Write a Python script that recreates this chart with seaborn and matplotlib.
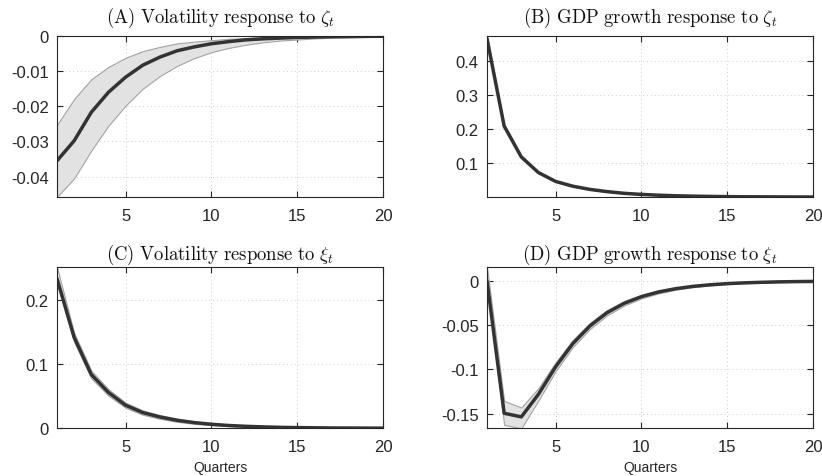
import numpy as np
import pandas as pd
import seaborn as sns
import matplotlib
matplotlib.use("Agg")
import matplotlib.pyplot as plt

# Horizon (quarters)
quarters = list(range(1, 21))

# (A) Volatility response to zeta
vol_zeta_mean = [-0.0355, -0.0298, -0.0217, -0.0160, -0.0117, -0.0083, -0.0060, -0.0042, -0.0031, -0.0022,
                 -0.0016, -0.0011, -0.0008, -0.0006, -0.0004, -0.0003, -0.0002, -0.00015, -0.0001, -0.00007]
vol_zeta_lo = [-0.0458, -0.0405, -0.0326, -0.0255, -0.0198, -0.0150, -0.0114, -0.0085, -0.0063, -0.0046,
               -0.0034, -0.0025, -0.0018, -0.0013, -0.0010, -0.0007, -0.0005, -0.0004, -0.0003, -0.0002]
vol_zeta_hi = [-0.0253, -0.0179, -0.0123, -0.0088, -0.0062, -0.0043, -0.0031, -0.0021, -0.0016, -0.0012,
               -0.0008, -0.0006, -0.0004, -0.0003, -0.0002, -0.00015, -0.0001, -0.00007, -0.00005, -0.00003]

# (B) GDP growth response to zeta
gdp_zeta_mean = [0.466, 0.209, 0.118, 0.072, 0.046, 0.032, 0.0225, 0.016, 0.011, 0.0078,
                 0.0055, 0.0038, 0.0027, 0.0019, 0.0013, 0.0009, 0.0007, 0.0005, 0.0003, 0.0002]
gdp_zeta_lo = [0.458, 0.205, 0.115, 0.070, 0.045, 0.031, 0.0218, 0.0155, 0.0106, 0.0075,
               0.0053, 0.0036, 0.0026, 0.0018, 0.0012, 0.0008, 0.0006, 0.0004, 0.0003, 0.0002]
gdp_zeta_hi = [0.474, 0.213, 0.121, 0.074, 0.047, 0.033, 0.0232, 0.0165, 0.0114, 0.0081,
               0.0057, 0.0040, 0.0028, 0.0020, 0.0014, 0.0010, 0.0008, 0.0006, 0.0004, 0.0003]

# (C) Volatility response to xi
vol_xi_mean = [0.234, 0.142, 0.084, 0.056, 0.036, 0.0245, 0.0177, 0.0125, 0.0089, 0.0063,
               0.0044, 0.0031, 0.0022, 0.0015, 0.0011, 0.0008, 0.0005, 0.0004, 0.0003, 0.0002]
vol_xi_lo = [0.226, 0.135, 0.078, 0.051, 0.032, 0.0212, 0.0148, 0.0101, 0.0070, 0.0049,
             0.0034, 0.0024, 0.0017, 0.0011, 0.0008, 0.0006, 0.0003, 0.0002, 0.0002, 0.0001]
vol_xi_hi = [0.252, 0.149, 0.090, 0.061, 0.040, 0.0280, 0.0206, 0.0150, 0.0109, 0.0078,
             0.0055, 0.0039, 0.0028, 0.0019, 0.0014, 0.0010, 0.0007, 0.0005, 0.0004, 0.0003]

# (D) GDP growth response to xi
gdp_xi_mean = [0.0, -0.1495, -0.1536, -0.128, -0.097, -0.0708, -0.0508, -0.0358, -0.0252, -0.0177,
               -0.0124, -0.0087, -0.0061, -0.0043, -0.0030, -0.0021, -0.0015, -0.0010, -0.0007, -0.0005]
gdp_xi_lo = [-0.004, -0.1627, -0.1665, -0.135, -0.102, -0.0748, -0.0543, -0.0388, -0.0277, -0.0197,
             -0.0140, -0.0099, -0.0070, -0.0050, -0.0036, -0.0026, -0.0019, -0.0013, -0.0009, -0.0007]
gdp_xi_hi = [0.0158, -0.1355, -0.1430, -0.121, -0.092, -0.0668, -0.0473, -0.0328, -0.0227, -0.0157,
             -0.0108, -0.0075, -0.0052, -0.0036, -0.0024, -0.0016, -0.0011, -0.0007, -0.0005, -0.0003]

titles = ["(A) Volatility response to ", "(B) GDP growth response to ",
          "(C) Volatility response to ", "(D) GDP growth response to "]
shock_symbols = [r"\zeta_t", r"\zeta_t", r"\xi_t", r"\xi_t"]
x_ticks = [5, 10, 15, 20]
y_ticks = [
    [-0.04, -0.03, -0.02, -0.01, 0],
    [0.1, 0.2, 0.3, 0.4],
    [0, 0.1, 0.2],
    [-0.15, -0.1, -0.05, 0],
]
y_ticklabels = [
    ["-0.04", "-0.03", "-0.02", "-0.01", "0"],
    ["0.1", "0.2", "0.3", "0.4"],
    ["0", "0.1", "0.2"],
    ["-0.15", "-0.1", "-0.05", "0"],
]
x_label = "Quarters"

panels = [
    (vol_zeta_mean, vol_zeta_lo, vol_zeta_hi),
    (gdp_zeta_mean, gdp_zeta_lo, gdp_zeta_hi),
    (vol_xi_mean, vol_xi_lo, vol_xi_hi),
    (gdp_xi_mean, gdp_xi_lo, gdp_xi_hi),
]

sns.set_style("ticks")
plt.rcParams["font.family"] = ["Liberation Sans", "DejaVu Sans"]
plt.rcParams["mathtext.fontset"] = "cm"

W, H = 822, 477
fig = plt.figure(figsize=(W / 100, H / 100), dpi=100)

# axes boxes in pixels: (left, top, right, bottom)
boxes = [(57, 37, 383, 198), (487, 37, 813, 198),
         (57, 268, 383, 429.3), (487, 268, 813, 429.3)]
title_pads = [10, 10, 6, 6]

axis_col = "#262626"
line_col = "#333333"

for i, (box, (mean, lo, hi)) in enumerate(zip(boxes, panels)):
    l, t, r, b = box
    ax = fig.add_axes([l / W, 1 - b / H, (r - l) / W, (b - t) / H])
    df = pd.DataFrame({"q": quarters, "mean": mean, "lo": lo, "hi": hi})
    ax.fill_between(df["q"], df["lo"], df["hi"], facecolor="#e2e2e2",
                    edgecolor="#a3a3a3", linewidth=0.8, zorder=2)
    sns.lineplot(data=df, x="q", y="mean", ax=ax, color=line_col,
                 linewidth=2.5, zorder=3)
    ax.set_xlim(1, 20)
    ax.set_ylim(min(lo), max(hi))
    ax.set_xticks(x_ticks)
    ax.set_xticklabels([str(v) for v in x_ticks])
    ax.set_yticks(y_ticks[i])
    ax.set_yticklabels(y_ticklabels[i])
    ax.grid(True, linestyle=(0, (1, 3)), color="#cccccc", linewidth=0.7, zorder=0)
    ax.set_axisbelow(True)
    ax.tick_params(direction="in", length=4, width=0.8, colors=axis_col,
                   labelsize=12, top=True, right=True)
    ax.tick_params(axis="x", pad=8)
    ax.tick_params(axis="y", pad=6)
    for sp in ax.spines.values():
        sp.set_visible(True)
        sp.set_color(axis_col)
        sp.set_linewidth(0.8)
        sp.set_zorder(5)
    ax.set_ylabel("")
    if i >= 2:
        ax.set_xlabel(x_label, fontsize=10, color=axis_col, labelpad=4)
    else:
        ax.set_xlabel("")
    label = r"$\mathrm{" + titles[i].replace(" ", r"\ ") + "}" + shock_symbols[i] + "$"
    ax.set_title(label, fontsize=13.5, color="#111111", pad=title_pads[i])

fig.savefig("out.png", dpi=100)
